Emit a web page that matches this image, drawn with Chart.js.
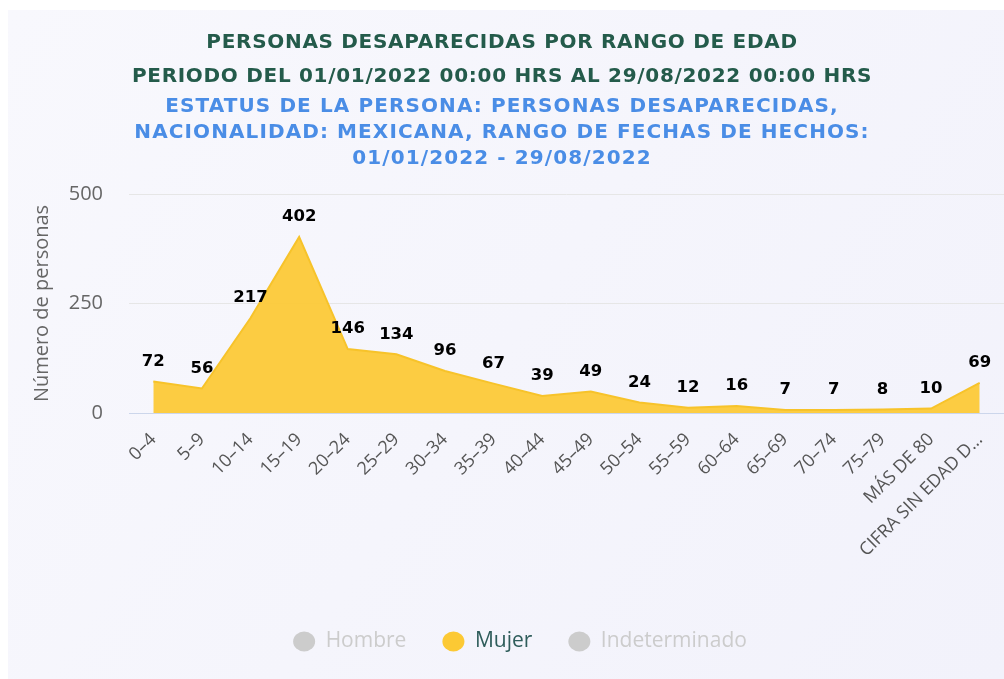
<!DOCTYPE html>
<html>
<head>
<meta charset="utf-8">
<script src="https://cdn.jsdelivr.net/npm/chart.js@4/dist/chart.umd.min.js"></script>
<style>
html,body{margin:0;padding:0;background:#ffffff;}
#wrap{position:relative;width:1004px;height:679px;}
</style>
</head>
<body>
<div id="wrap"><canvas id="c" width="1004" height="679"></canvas></div>
<script>
const categories = ["0–4","5–9","10–14","15–19","20–24","25–29","30–34","35–39","40–44","45–49","50–54","55–59","60–64","65–69","70–74","75–79","MÁS DE 80","CIFRA SIN EDAD D…"];
const mujer = [72,56,217,402,146,134,96,67,39,49,24,12,16,7,7,8,10,69];
const hombre = [];
const indeterminado = [];
const yTicks = [0,250,500];
const titleLines = ["PERSONAS DESAPARECIDAS POR RANGO DE EDAD","PERIODO DEL 01/01/2022 00:00 HRS AL 29/08/2022 00:00 HRS"];
const subtitleLines = ["ESTATUS DE LA PERSONA: PERSONAS DESAPARECIDAS,","NACIONALIDAD: MEXICANA, RANGO DE FECHAS DE HECHOS:","01/01/2022 - 29/08/2022"];

const bgPlugin = {
  id:'bg',
  beforeDraw(chart){
    const ctx = chart.ctx;
    const g = ctx.createLinearGradient(8,10,1004,679);
    g.addColorStop(0,'#f8f8fd');
    g.addColorStop(1,'#f2f2fb');
    ctx.save();
    ctx.fillStyle = g;
    ctx.fillRect(8,10,chart.width-8,chart.height-10);
    ctx.restore();
  }
};
const legendShift = {
  id:'legendShift',
  afterLayout(chart){
    if(chart.legend){ chart.legend.left += 18; chart.legend.right += 18; }
  }
};
const labelPlugin = {
  id:'vlabels',
  afterDatasetsDraw(chart){
    const ctx = chart.ctx;
    chart.data.datasets.forEach((ds,i)=>{
      if(!chart.isDatasetVisible(i)) return;
      const meta = chart.getDatasetMeta(i);
      ctx.save();
      ctx.font = 'bold 16.5px "DejaVu Sans"';
      ctx.fillStyle = '#000000';
      ctx.textAlign = 'center';
      ctx.textBaseline = 'middle';
      meta.data.forEach((pt,j)=>{
        ctx.fillText(String(ds.data[j]), pt.x, pt.y - 20);
      });
      ctx.restore();
    });
  }
};

const chart = new Chart(document.getElementById('c'), {
  type:'line',
  data:{
    labels:categories,
    datasets:[
      {label:'Hombre',data:hombre,hidden:true,borderColor:'#cccccc',backgroundColor:'#cccccc'},
      {label:'Mujer',data:mujer,borderColor:'#f7c32a',backgroundColor:'rgba(252,201,56,0.95)',fill:'origin',borderWidth:2,pointRadius:0,tension:0},
      {label:'Indeterminado',data:indeterminado,hidden:true,borderColor:'#cccccc',backgroundColor:'#cccccc'}
    ]
  },
  plugins:[bgPlugin,legendShift,labelPlugin],
  options:{
    responsive:false,
    animation:false,
    layout:{padding:{left:0,right:0,top:0,bottom:17}},
    plugins:{
      title:{display:true,text:titleLines,color:'#245b4b',font:{family:'"DejaVu Sans"',size:20,weight:'bold',lineHeight:1.7},padding:{top:26,bottom:0}},
      subtitle:{display:true,text:subtitleLines,color:'#4a8de6',font:{family:'"DejaVu Sans"',size:20,weight:'bold',lineHeight:1.3},padding:{top:0,bottom:22}},
      legend:{
        position:'bottom',
        onClick:null,
        labels:{
          usePointStyle:true,pointStyle:'circle',boxHeight:14,pointStyleWidth:22,padding:36,
          font:{family:'"Open Sans"',size:21},
          generateLabels(chart){
            return chart.data.datasets.map((ds,i)=>{
              const vis = chart.isDatasetVisible(i);
              return {text:ds.label,fillStyle:vis?'#fcc934':'#cccccc',strokeStyle:vis?'#fcc934':'#cccccc',lineWidth:0,hidden:false,datasetIndex:i,pointStyle:'circle',fontColor:vis?'#2f5d5b':'#cccccc'};
            });
          }
        }
      },
      tooltip:{enabled:false}
    },
    scales:{
      x:{
        offset:true,
        grid:{display:false},
        border:{display:true,color:'#ccd6eb',width:1},
        ticks:{color:'#555555',font:{family:'"Open Sans"',size:18},minRotation:45,maxRotation:45,autoSkip:false,padding:8},
        afterFit(s){s.height=182;}
      },
      y:{
        min:0,max:500,
        afterBuildTicks(s){s.ticks = yTicks.map(v=>({value:v}));},
        grid:{color:(c)=>c.tick && c.tick.value===0?'#ccd6eb':'#e6e6e6',drawTicks:false,lineWidth:1},
        border:{display:false},
        ticks:{color:'#666666',font:{family:'"Open Sans"',size:20},padding:26},
        title:{display:true,text:'Número de personas',color:'#666666',font:{family:'"Open Sans"',size:20},padding:{top:30,bottom:0}},
        afterFit(s){s.width=129;}
      }
    }
  }
});

// letter spacing for the title blocks (Montserrat-like width)
chart.boxes.forEach(b=>{
  if(b.options && (b.options.text===titleLines || b.options.text===subtitleLines)){
    const ls = b.options.text===titleLines ? '0.7px' : '1.1px';
    const orig = b.draw;
    b.draw = function(area){
      const ctx = this.ctx;
      ctx.save();
      ctx.letterSpacing = ls;
      orig.call(this, area);
      ctx.restore();
    };
  }
});
chart.draw();
</script>
</body>
</html>
